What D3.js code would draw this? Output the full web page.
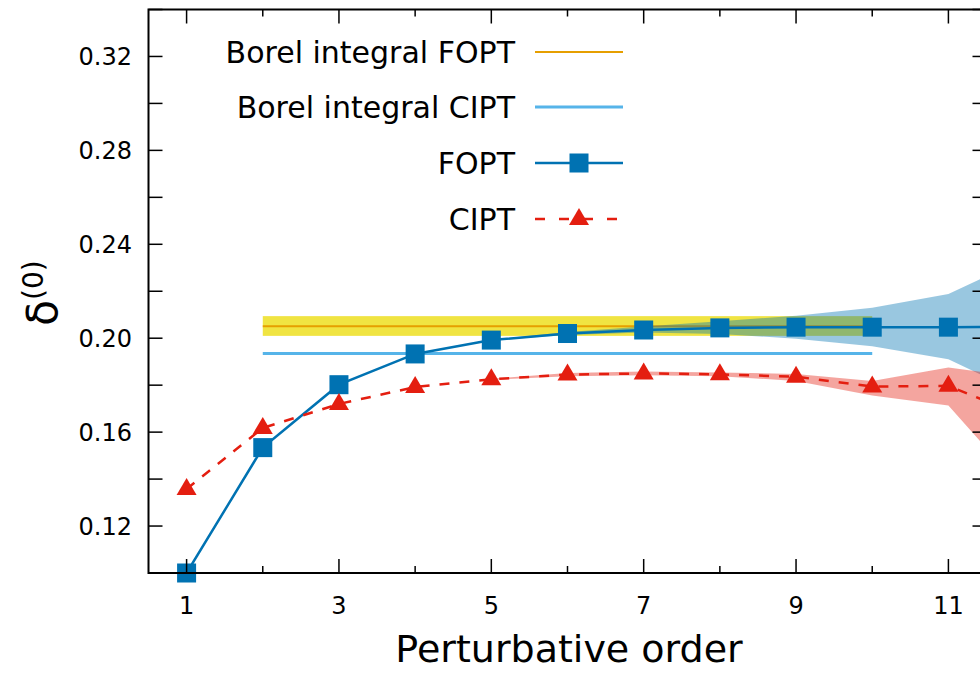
<!DOCTYPE html>
<meta charset="utf-8">
<style>
  body { margin: 0; background: #fff; }
  text { font-family: "DejaVu Sans", Verdana, sans-serif; fill: #000; }
</style>
<script src="https://d3js.org/d3.v7.min.js"></script>
<div id="chart"></div>
<script>
// perturbative orders and central values
var orders = [1, 2, 3, 4, 5, 6, 7, 8, 9, 10, 11, 12];
var fopt = [0.1000, 0.1534, 0.1802, 0.1933, 0.1992, 0.2020, 0.2035, 0.2044, 0.2047, 0.2047, 0.2047, 0.2048];
var cipt = [0.1358, 0.1618, 0.1720, 0.1792, 0.1825, 0.1845, 0.1850, 0.1846, 0.1836, 0.1794, 0.1797, 0.1665];

// uncertainty bands (orders 5..12)
var bandOrders = [5, 6, 7, 8, 9, 10, 11, 12];
var foptHi = [0.1994, 0.2026, 0.2050, 0.2072, 0.2096, 0.2130, 0.2188, 0.2340];
var foptLo = [0.1990, 0.2014, 0.2024, 0.2018, 0.1998, 0.1966, 0.1910, 0.1756];
var ciptHi = [0.1827, 0.1852, 0.1858, 0.1854, 0.1848, 0.1818, 0.1875, 0.1832];
var ciptLo = [0.1823, 0.1838, 0.1842, 0.1838, 0.1818, 0.1756, 0.1713, 0.1350];

// Borel integrals: from order 2 to 10
var borelRange = [2, 10];
var borelFopt = [0.2010, 0.2051, 0.2094]; // lo, value, hi
var borelCipt = 0.1935;

var xTicks = [1, 3, 5, 7, 9, 11];
var yTicks = [0.12, 0.16, 0.20, 0.24, 0.28, 0.32];

var W = 980, H = 686;
var pL = 148.5, pR = 986.5, pT = 9.5, pB = 573;

var svg = d3.select("#chart").append("svg")
  .attr("width", W).attr("height", H);

var x = d3.scaleLinear().domain([0.5, 11.5]).range([pL, pR]);
var y = d3.scaleLinear().domain([0.10, 0.34]).range([pB, pT]);

svg.append("clipPath").attr("id", "clip")
  .append("rect").attr("x", pL).attr("y", pT)
  .attr("width", pR - pL).attr("height", pB - pT);

var plot = svg.append("g").attr("clip-path", "url(#clip)");

var blue = "#0072b2", red = "#e41e10", yellow = "#f0e442",
    orange = "#e69f00", sky = "#56b4e9";

// yellow Borel FOPT band + line
plot.append("rect")
  .attr("x", x(borelRange[0])).attr("width", x(borelRange[1]) - x(borelRange[0]))
  .attr("y", y(borelFopt[2])).attr("height", y(borelFopt[0]) - y(borelFopt[2]))
  .attr("fill", yellow);
plot.append("line")
  .attr("x1", x(borelRange[0])).attr("x2", x(borelRange[1]))
  .attr("y1", y(borelFopt[1])).attr("y2", y(borelFopt[1]))
  .attr("stroke", orange).attr("stroke-width", 2);
plot.append("line")
  .attr("x1", x(borelRange[0])).attr("x2", x(borelRange[1]))
  .attr("y1", y(borelCipt)).attr("y2", y(borelCipt))
  .attr("stroke", sky).attr("stroke-width", 3);

// bands
var bandIdx = d3.range(bandOrders.length);
var foptArea = d3.area()
  .x(function(i) { return x(bandOrders[i]); })
  .y0(function(i) { return y(foptLo[i]); })
  .y1(function(i) { return y(foptHi[i]); });
var ciptArea = d3.area()
  .x(function(i) { return x(bandOrders[i]); })
  .y0(function(i) { return y(ciptLo[i]); })
  .y1(function(i) { return y(ciptHi[i]); });
plot.append("path").attr("d", foptArea(bandIdx)).attr("fill", blue).attr("fill-opacity", 0.4);
plot.append("path").attr("d", ciptArea(bandIdx)).attr("fill", red).attr("fill-opacity", 0.4);

// lines
var idx = d3.range(orders.length);
var foptLine = d3.line().x(function(i) { return x(orders[i]); }).y(function(i) { return y(fopt[i]); });
var ciptLine = d3.line().x(function(i) { return x(orders[i]); }).y(function(i) { return y(cipt[i]); });
plot.append("path").attr("d", foptLine(idx)).attr("fill", "none")
  .attr("stroke", blue).attr("stroke-width", 2.5);
plot.append("path").attr("d", ciptLine(idx)).attr("fill", "none")
  .attr("stroke", red).attr("stroke-width", 2.5).attr("stroke-dasharray", "10,10");

// markers (only inside x range)
var inside = idx.filter(function(i) { return orders[i] <= 11.5; });
var sq = 19;
svg.append("g").selectAll("rect").data(inside).enter().append("rect")
  .attr("x", function(i) { return x(orders[i]) - sq / 2; })
  .attr("y", function(i) { return y(fopt[i]) - sq / 2; })
  .attr("width", sq).attr("height", sq).attr("fill", blue);

var tri = "M0,-11L10,6L-10,6Z";
svg.append("g").selectAll("path").data(inside).enter().append("path")
  .attr("d", tri).attr("fill", red)
  .attr("transform", function(i) { return "translate(" + x(orders[i]) + "," + y(cipt[i]) + ")"; });

// frame
svg.append("rect").attr("x", pL).attr("y", pT)
  .attr("width", pR - pL).attr("height", pB - pT)
  .attr("fill", "none").attr("stroke", "#000").attr("stroke-width", 2);

// ticks (inward, mirrored)
var axes = svg.append("g").attr("stroke", "#000").attr("stroke-width", 1.5);
d3.range(1, 12).forEach(function(v) {
  var len = v % 2 ? 14 : 7;
  axes.append("line").attr("x1", x(v)).attr("x2", x(v)).attr("y1", pB).attr("y2", pB - len);
  axes.append("line").attr("x1", x(v)).attr("x2", x(v)).attr("y1", pT).attr("y2", pT + len);
});
d3.range(0.10, 0.341, 0.02).forEach(function(v) {
  axes.append("line").attr("x1", pL).attr("x2", pL + 14).attr("y1", y(v)).attr("y2", y(v));
  axes.append("line").attr("x1", pR).attr("x2", pR - 14).attr("y1", y(v)).attr("y2", y(v));
});

svg.append("g").selectAll("text").data(xTicks).enter().append("text")
  .attr("x", function(d) { return x(d); }).attr("y", 614)
  .attr("text-anchor", "middle").style("font-size", "24px")
  .text(function(d) { return d; });
svg.append("g").selectAll("text").data(yTicks).enter().append("text")
  .attr("x", 132).attr("y", function(d) { return y(d) + 9; })
  .attr("text-anchor", "end").style("font-size", "24px")
  .text(function(d) { return d3.format(".2f")(d); });

// axis titles
svg.append("text").attr("x", 569).attr("y", 662)
  .attr("text-anchor", "middle").style("font-size", "38px")
  .text("Perturbative order");
var yl = svg.append("text")
  .attr("transform", "translate(57,293) rotate(-90)")
  .attr("text-anchor", "middle").style("font-size", "42px");
yl.append("tspan").text("δ");
yl.append("tspan").attr("dy", -14).style("font-size", "28px").text("(0)");

// legend
var legend = [
  {label: "Borel integral FOPT", y: 52},
  {label: "Borel integral CIPT", y: 107},
  {label: "FOPT", y: 163},
  {label: "CIPT", y: 219}
];
var lg = svg.append("g");
legend.forEach(function(d) {
  lg.append("text").attr("x", 515).attr("y", d.y + 11)
    .attr("text-anchor", "end").style("font-size", "30px").text(d.label);
});
lg.append("line").attr("x1", 535).attr("x2", 623).attr("y1", 52).attr("y2", 52)
  .attr("stroke", orange).attr("stroke-width", 2);
lg.append("line").attr("x1", 535).attr("x2", 623).attr("y1", 107).attr("y2", 107)
  .attr("stroke", sky).attr("stroke-width", 3);
lg.append("line").attr("x1", 535).attr("x2", 623).attr("y1", 163).attr("y2", 163)
  .attr("stroke", blue).attr("stroke-width", 2.5);
lg.append("rect").attr("x", 579 - sq / 2).attr("y", 163 - sq / 2)
  .attr("width", sq).attr("height", sq).attr("fill", blue);
lg.append("line").attr("x1", 535).attr("x2", 623).attr("y1", 219).attr("y2", 219)
  .attr("stroke", red).attr("stroke-width", 2.5).attr("stroke-dasharray", "10,14");
lg.append("path").attr("d", tri).attr("fill", red)
  .attr("transform", "translate(579,219)");
</script>
